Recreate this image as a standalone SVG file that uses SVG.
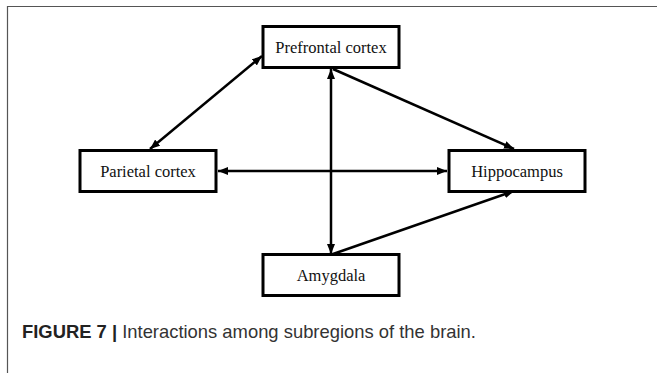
<svg xmlns="http://www.w3.org/2000/svg" width="657" height="373" viewBox="0 0 657 373">
  <style>
    .box { fill: #ffffff; stroke: #000000; stroke-width: 3; }
    .label { font-family: "Liberation Serif", "Times New Roman", serif; font-size: 16.5px; fill: #111111; text-anchor: middle; }
    .edge { stroke: #000000; stroke-width: 2.5; fill: none; }
    .cap { font-family: "Liberation Sans", Arial, sans-serif; font-size: 18.4px; fill: #333333; }
  </style>
  <defs>
    <marker id="head" viewBox="0 0 10 8" refX="10" refY="4" markerWidth="4" markerHeight="3.2" orient="auto-start-reverse" markerUnits="strokeWidth">
      <path d="M0,0 L10,4 L0,8 Z" fill="#000000"/>
    </marker>
  </defs>
  <rect width="657" height="373" fill="#ffffff"/>
  <!-- panel frame (left and top edges) -->
  <path d="M7.5,373 V6.5 H657" fill="none" stroke="#555555" stroke-width="1.2"/>

  <g id="connectors">
    <line class="edge" x1="150" y1="149" x2="262" y2="56" marker-start="url(#head)" marker-end="url(#head)"/>
    <line class="edge" x1="331" y1="69" x2="331" y2="254" marker-start="url(#head)" marker-end="url(#head)"/>
    <line class="edge" x1="333" y1="69" x2="514" y2="149" marker-end="url(#head)"/>
    <line class="edge" x1="218" y1="171" x2="447" y2="171" marker-start="url(#head)" marker-end="url(#head)"/>
    <line class="edge" x1="333" y1="254" x2="514" y2="191" marker-end="url(#head)"/>
  </g>

  <g id="prefrontal">
    <rect class="box" x="263" y="26.5" width="136" height="41"/>
    <text class="label" x="331" y="53">Prefrontal cortex</text>
  </g>
  <g id="parietal">
    <rect class="box" x="80" y="150.5" width="136" height="41"/>
    <text class="label" x="148" y="177">Parietal cortex</text>
  </g>
  <g id="hippocampus">
    <rect class="box" x="449" y="150.5" width="136" height="41"/>
    <text class="label" x="517" y="177">Hippocampus</text>
  </g>
  <g id="amygdala">
    <rect class="box" x="263" y="254.5" width="136" height="41"/>
    <text class="label" x="331" y="281">Amygdala</text>
  </g>

  <text class="cap" x="22" y="338"><tspan font-weight="bold" fill="#222222">FIGURE 7 |</tspan> Interactions among subregions of the brain.</text>
</svg>
